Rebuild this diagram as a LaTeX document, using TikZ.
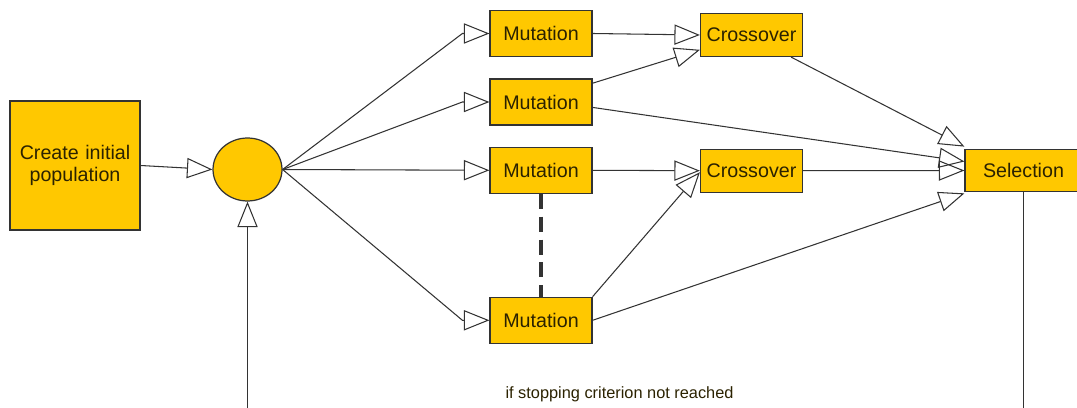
\documentclass[tikz,border=0pt]{standalone}
\usepackage{fontspec}
\setmainfont{Liberation Sans}
\usetikzlibrary{arrows.meta,shapes.geometric,calc}
\definecolor{gold}{HTML}{FFC800}
\definecolor{edge}{HTML}{333333}
\definecolor{ink}{HTML}{2B2200}
\begin{document}
\begin{tikzpicture}[x=0.02cm,y=-0.02cm,
  box/.style={draw=edge, fill=gold, line width=0.7pt, inner sep=0pt,
    font=\fontsize{11.2}{12.4}\selectfont, text=ink},
  mutbox/.style={box, minimum width=2.04cm, minimum height=0.92cm},
  crossbox/.style={box, minimum width=2.04cm, minimum height=0.86cm},
  conn/.style={draw=edge, line width=0.6pt},
  tip/.style={conn, -{Triangle[open,length=14.5pt,width=11.5pt]}}]
\useasboundingbox (0,0) rectangle (1077,408);

% operators
\node[box, minimum width=2.6cm, minimum height=2.58cm, text width=2.4cm, align=center]
  (init) at (75,165.5) {Create initial\\population};
\node[box, ellipse, minimum width=1.38cm, minimum height=1.26cm] (circ) at (247.5,169.5) {};
\node[mutbox] (m1) at (541,33.5) {Mutation};
\node[mutbox] (m2) at (541,102) {Mutation};
\node[mutbox] (m3) at (541,170.3) {Mutation};
\node[mutbox] (m4) at (541,320.3) {Mutation};
\node[crossbox] (c1) at (751.5,35) {Crossover};
\node[crossbox] (c2) at (751.5,170.7) {Crossover};
\node[box, minimum width=2.34cm, minimum height=0.85cm] (sel) at (1023.5,170.5) {Selection};

% feedback loop ends below the picture
\coordinate (fbR) at (1023.5,412);
\coordinate (fbL) at (247.5,412);
\node[font=\fontsize{9.3}{11}\selectfont, text=ink] (crit) at (619.5,394)
  {if stopping criterion not reached};

% connectors
\draw[tip] (init.east) -- (circ.west);
\draw[tip] (circ.east) -- ($(m1.west)+(-27,0)$) -- (m1.west);
\draw[tip] (circ.east) -- ($(m2.west)+(-27,0)$) -- (m2.west);
\draw[tip] (circ.east) -- (m3.west);
\draw[tip] (circ.east) -- ($(m4.west)+(-27,0)$) -- (m4.west);

\draw[tip] (m1.east) -- (c1.west);
\draw[tip] (m2.20) -- (c1.196);
\draw[tip] (m3.east) -- (c2.west);
\draw[tip] (m4.north east) -- ($(c2.west)+(0,1.5)$);

\draw[tip] ($(c1.south east)+(-12,0)$) -- ($(sel.north west)+(0,-2)$);
\draw[tip] (m2.-6) -- ($(sel.west)+(0,-9)$);
\draw[tip] (c2.east) -- (sel.west);
\draw[tip] (m4.east) -- ($(sel.south west)+(0,1)$);

\draw[conn, line width=1.8pt, dash pattern=on 8.5pt off 4.5pt] (m3.south) -- (m4.north);

\draw[conn] (sel.south) -- (fbR);
\draw[tip] (fbL) -- (circ.south);
\end{tikzpicture}
\end{document}
